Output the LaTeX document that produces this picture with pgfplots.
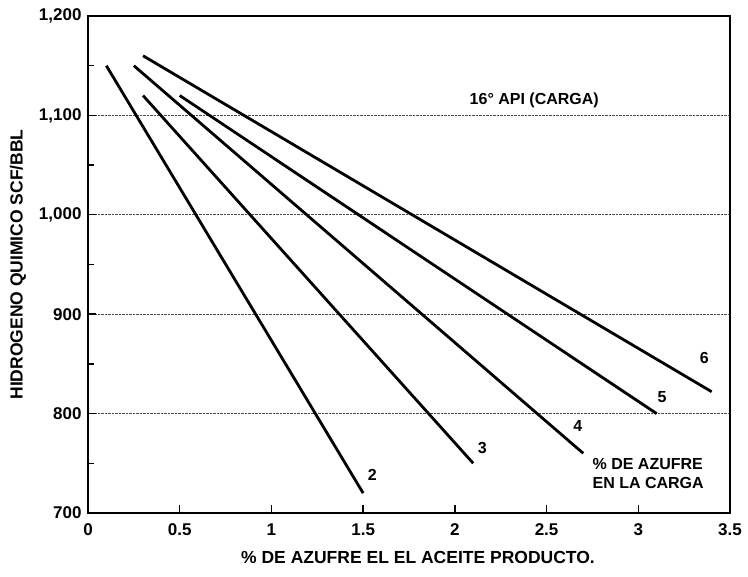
\documentclass[border=0pt]{standalone}
\usepackage{pgfplots}
\pgfplotsset{compat=1.18}
\usepackage{fontspec}
\setmainfont{Liberation Sans}
\begin{document}
\begin{tikzpicture}
\useasboundingbox (-88pt,-64pt) rectangle (660pt,513pt);
\begin{axis}[
  at={(0,0)}, anchor=south west,
  width=642pt, height=497pt, scale only axis,
  xmin=0, xmax=3.5, ymin=700, ymax=1200,
  xtick={0,0.5,1,1.5,2,2.5,3,3.5},
  ytick={700,800,900,1000,1100,1200},
  minor y tick num=1,
  tick pos=left, tick align=inside,
  major tick length=8pt, minor tick length=6pt,
  every tick/.style={line width=1.4pt, black},
  axis line style={line width=1.8pt},
  ymajorgrids, grid style={densely dotted, line width=1pt, black!70},
  /pgf/number format/1000 sep={,},
  /pgf/number format/assume math mode=true,
  tick label style={font=\fontsize{17}{19}\selectfont\bfseries},
  xticklabel style={yshift=-7pt},
  yticklabel style={xshift=-3pt},
  xlabel={\% DE AZUFRE EL EL ACEITE PRODUCTO.},
  ylabel={HIDROGENO QUIMICO SCF/BBL},
  label style={font=\fontsize{17.5}{19}\selectfont\bfseries},
  xlabel style={yshift=-9pt, xshift=9pt},
  ylabel style={yshift=6pt},
  clip=false,
]
\addplot[black, line width=2.8pt] coordinates {(0.1,1150) (1.5,720)};
\addplot[black, line width=2.8pt] coordinates {(0.3,1120) (2.1,750)};
\addplot[black, line width=2.8pt] coordinates {(0.25,1150) (2.7,760)};
\addplot[black, line width=2.8pt] coordinates {(0.5,1120) (3.1,800)};
\addplot[black, line width=2.8pt] coordinates {(0.3,1160) (3.4,822)};
\begin{scope}[every node/.style={font=\fontsize{16}{18}\selectfont\bfseries}]
\node at (axis cs:1.55,738) {2};
\node at (axis cs:2.15,765) {3};
\node at (axis cs:2.67,788) {4};
\node at (axis cs:3.13,817) {5};
\node at (axis cs:3.36,856) {6};
\node[anchor=west, align=left, inner sep=0pt] at (axis cs:2.75,740) {\% DE AZUFRE\\[1pt]EN LA CARGA};
\node[anchor=west, inner sep=0pt] at (axis cs:2.08,1115) {16° API (CARGA)};
\end{scope}
\end{axis}
\end{tikzpicture}
\end{document}
